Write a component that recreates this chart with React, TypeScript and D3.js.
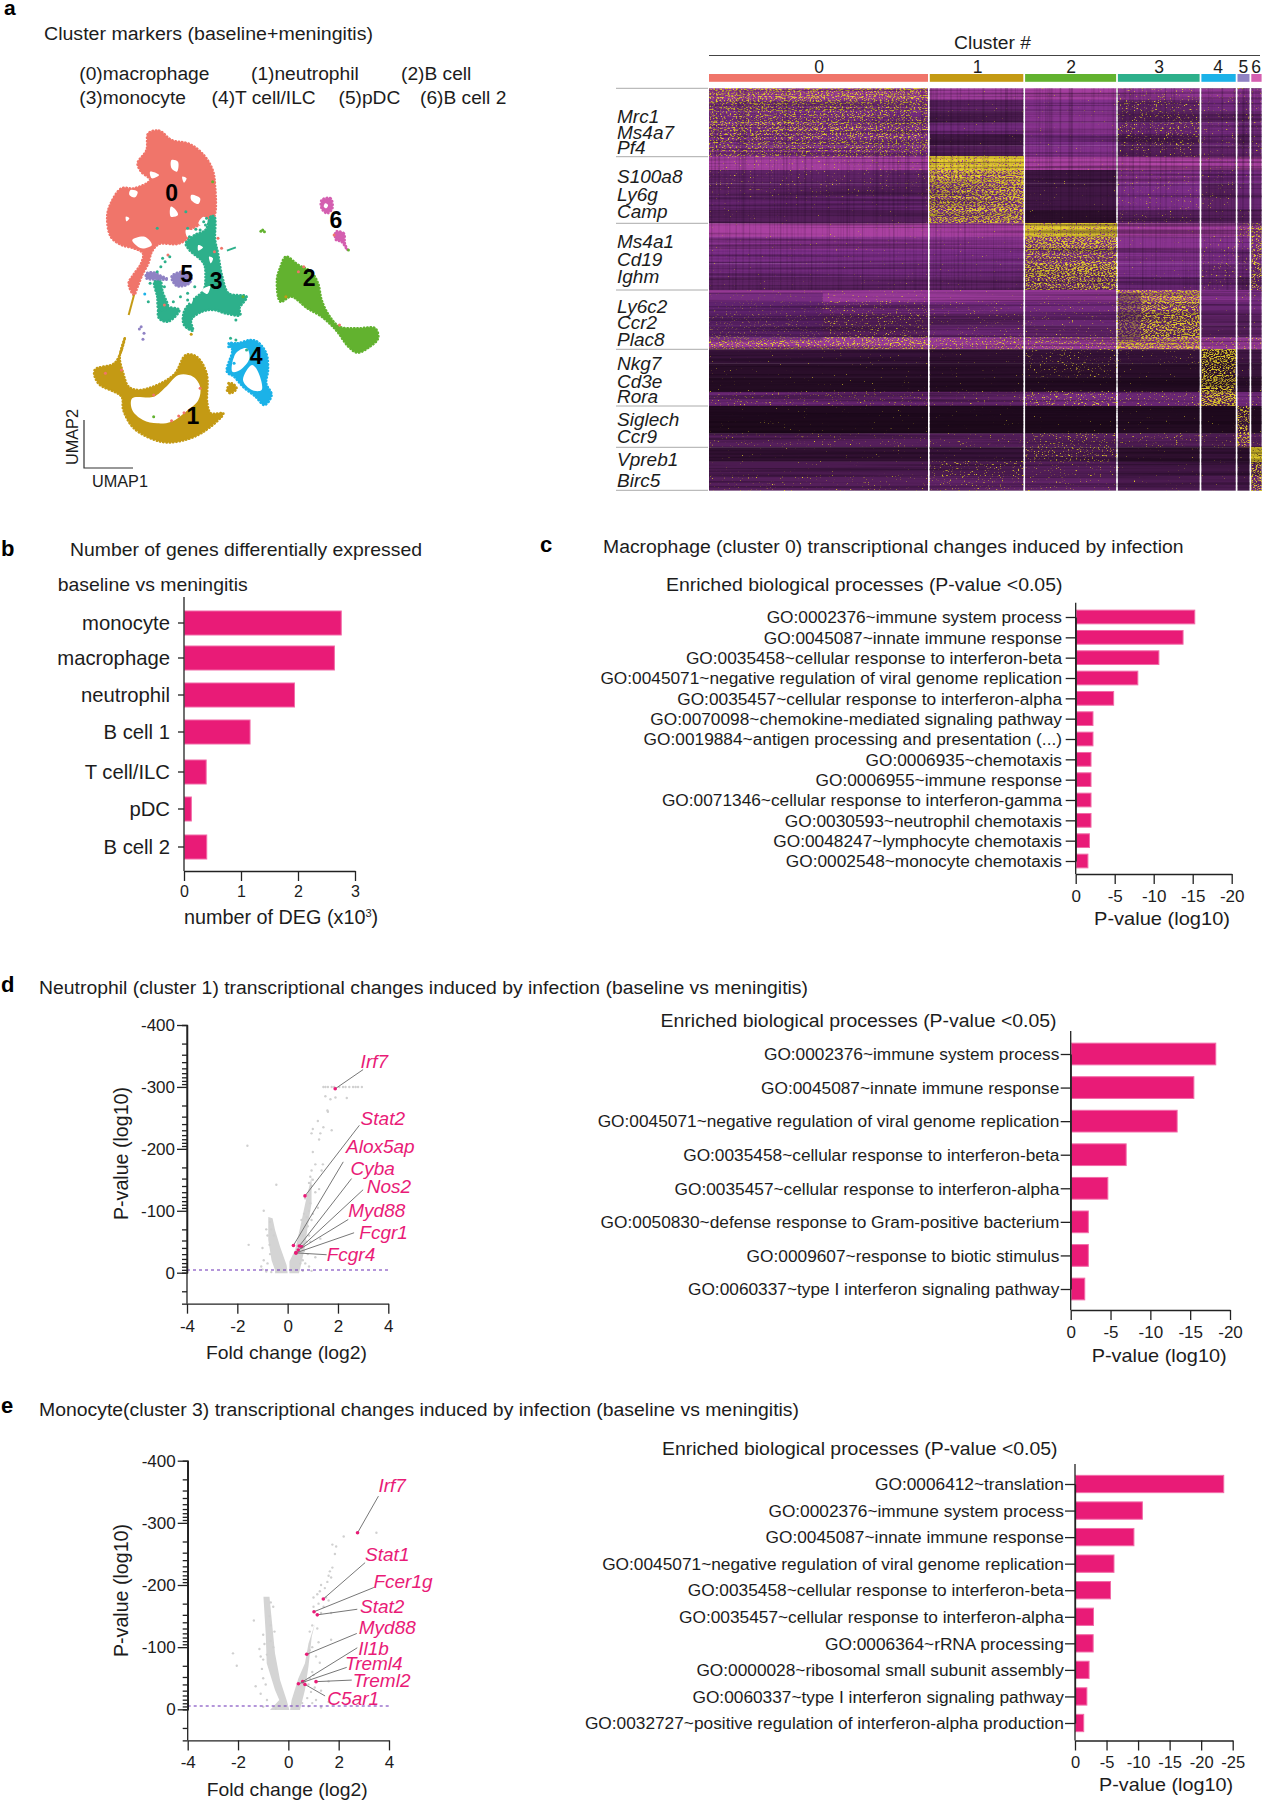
import React, { useEffect, useRef } from "react";
import * as d3 from "d3";

const SANS = "'Liberation Sans', Arial, sans-serif";
const PINK = "#E91B77";
const PINK_EDGE = "#F26BA8";
const INK = "#1c1c1c";

// ---------- panel a: UMAP ----------
const clusterColors = ["#F0756A", "#C49A14", "#62B22F", "#2DB08B", "#1BB2E8", "#8F82C4", "#D45FB0"];
const umapLegend: [string, number, number][] = [
  ["(0)macrophage", 79.3, 80], ["(1)neutrophil", 251, 80], ["(2)B cell", 401, 80],
  ["(3)monocyte", 79.3, 104], ["(4)T cell/ILC", 211.6, 104], ["(5)pDC", 338.5, 104], ["(6)B cell 2", 420, 104],
];
const umapBlob0 = [[415,400],[445,392],[480,420],[530,432],[570,465],[595,510],[602,560],[602,640],[592,662],[575,650],[560,672],[530,692],[525,715],[495,732],[445,732],[425,755],[415,790],[400,820],[385,860],[375,885],[360,850],[375,822],[395,790],[400,760],[375,745],[340,735],[310,710],[300,650],[310,610],[340,565],[375,565],[420,540],[395,515],[385,490],[410,450]];
const umapBlob3a = [[545,705],[575,690],[590,650],[600,650],[602,720],[610,760],[622,830],[640,880],[690,890],[670,925],[672,945],[630,940],[600,930],[565,935],[535,960],[540,992],[515,975],[515,935],[540,900],[570,870],[575,830],[570,790],[530,750],[520,730]];
const umapBlob3b = [[445,925],[470,922],[502,930],[470,965],[445,955]];
const umapBlob3c = [[432,845],[448,840],[455,875],[470,925],[445,930],[440,890]];
const umapBlob5a = [[480,830],[510,815],[535,825],[530,850],[495,858]];
const umapBlob5b = [[410,820],[432,818],[445,825],[470,838],[440,838],[410,835]];
const umapBlob2 = [[800,770],[835,795],[870,815],[890,850],[900,900],[920,945],[950,980],[1000,985],[1050,985],[1058,1015],[1035,1040],[1000,1058],[975,1040],[940,990],[900,950],[860,925],[815,890],[785,905],[775,840],[785,800]];
const umapBlob6a = [[900,600],[925,595],[930,625],[915,640],[900,625]];
const umapBlob6b = [[940,695],[962,700],[965,730],[972,750],[955,725],[940,720]];
const umapBlob4 = [[640,1030],[665,1030],[700,1020],[720,1025],[745,1060],[750,1110],[745,1150],[760,1185],[740,1215],[715,1190],[680,1160],[655,1130],[635,1115],[650,1050]];
const umapBlob1 = [[350,1012],[340,1050],[320,1090],[265,1110],[275,1150],[340,1190],[345,1230],[375,1285],[450,1325],[510,1322],[570,1295],[625,1240],[590,1240],[580,1210],[578,1120],[550,1070],[520,1065],[490,1120],[450,1150],[390,1170],[360,1160],[345,1120],[335,1070]];
const umapBlob1g = [[635,1170],[648,1150],[662,1165],[645,1180]];
const umapHoles = [
  [[370,1195],[430,1190],[465,1160],[500,1125],[540,1130],[560,1160],[555,1200],[520,1235],[480,1265],[440,1270],[400,1260],[370,1230]],
  [[660,1060],[690,1045],[698,1075],[672,1110],[650,1115]],
  [[705,1095],[722,1115],[732,1170],[705,1170],[680,1140]],
  [[480,480],[498,485],[495,515],[480,505]],
  [[478,620],[492,630],[498,645],[478,650]],
  [[535,585],[560,595],[555,612],[535,600]],
  [[365,570],[385,575],[378,592],[362,585]],
  [[370,720],[405,710],[425,735],[395,745]],
  [[420,515],[445,525],[425,535]],
  [[510,530],[522,535],[515,548]],
  [[352,650],[362,655],[354,664]],
  [[570,650],[585,665],[570,680],[555,670]],
  [[520,690],[545,695],[525,712]],
  [[430,755],[520,755],[570,800],[572,860],[520,880],[500,925],[465,880],[455,840],[435,835],[445,790]],
  [[910,610],[918,615],[913,625],[906,620]],
];
const umapHoles3 = [[[565,870],[588,858],[580,882]],[[528,900],[540,895],[535,912]],[[585,770],[596,775],[590,790]],[[555,735],[568,742],[555,752]]];
const umapStems: [number, number, number, number, number][] = [[1,375,885,360,945],[1,350,1012,338,1060],[3,635,752,660,742]];
const umapStray: [number, number, number][] = [[735,690,2],[740,695,2],[730,694,2],[395,980,5],[390,987,5],[400,1018,5],[403,1000,5],[535,1003,1],[500,1248,0],[515,1238,0],[480,1262,0],[560,1165,0],[935,705,0],[850,800,0],[835,815,0],[455,775,3],[470,765,0],[645,1015,3],[660,1020,3],[690,1050,3],[595,545,2],[440,685,3],[520,635,3],[575,675,3],[560,690,3],[525,685,3],[610,715,0],[405,882,4],[460,915,0],[295,1120,0],[340,1110,0],[430,1185,0],[430,1250,2],[800,890,1],[950,975,0],[420,850,3],[415,905,3],[525,900,3],[660,960,3],[680,890,2],[975,750,2],[590,650,3],[585,665,3],[578,655,3],[592,680,3],[570,665,3],[548,688,3],[530,710,3],[462,785,3],[450,800,3],[475,770,3],[440,815,3],[460,860,3],[485,905,3],[505,890,3],[525,880,3],[545,860,3],[620,745,0],[600,755,0],[650,1165,1],[640,1150,1],[520,1070,1],[545,1075,1],[650,1070,4],[640,1040,4],[670,1120,4],[655,1090,4]];
const umapLabels: [string, number, number][] = [["0",480,604],["1",540,1272],["2",865,858],["3",605,868],["4",717,1092],["5",522,845],["6",940,685]];

// ---------- panel a: heat map ----------
const clusterSpan = [219, 93.5, 91, 81.7, 34.3, 12, 10.3];
const clusterHeads: [string, number][] = [["0",819],["1",977.6],["2",1071],["3",1159],["4",1218],["5",1243.3],["6",1256]];
const geneBlockEdges = [88.3, 156.7, 223.3, 290, 349.3, 406, 447.3, 490.3];
const geneLabels: [string, number][] = [
  ["Mrc1",123],["Ms4a7",139],["Pf4",154],["S100a8",183],["Ly6g",201],["Camp",218],["Ms4a1",248],["Cd19",266],["Ighm",283],
  ["Ly6c2",313],["Ccr2",329],["Plac8",346],["Nkg7",370],["Cd3e",388],["Rora",403],["Siglech",426],["Ccr9",443],["Vpreb1",466],["Birc5",487],
];
const heatBase = [
  [[-.7,-.75,-.8,-.65,-.65,-.6,-.6],[-.55,-.35,-.55,-.35,-.45,-.4,-.5],[-.5,-.25,-.6,-.3,-.35,-.35,-.4],[-.5,-.45,-.6,-.4,-.45,-.4,-.45],[-.5,-.2,-.5,-.3,-.4,-.3,-.4],[-.55,-.3,-.55,-.3,-.35,-.35,-.4]],
  [[-.8,-.8,-.85,-.9,-.8,-.85,-.85],[-.35,-.6,-.2,-.6,-.4,-.5,-.5],[-.35,-.5,-.2,-.5,-.3,-.4,-.4],[-.4,-.5,-.2,-.5,-.35,-.4,-.4],[-.3,-.5,-.1,-.3,-.3,-.3,-.3]],
  [[-.85,-.8,-.75,-.8,-.75,-.7,-.6],[-.6,-.6,-.5,-.6,-.55,-.5,-.5],[-.5,-.5,-.5,-.55,-.5,-.4,-.5],[-.45,-.45,-.4,-.5,-.4,-.4,-.4],[-.35,-.35,-.4,-.4,-.4,-.3,-.4]],
  [[-.7,-.7,-.65,-.7,-.55,-.6,-.5],[-.4,-.45,-.45,-.45,-.4,-.4,-.45],[-.3,-.3,-.4,-.35,-.35,-.3,-.35],[-.3,-.4,-.35,-.35,-.3,-.3,-.35],[-.7,-.7,-.7,-.75,-.7,-.7,-.7]],
  [[-.15,-.12,-.15,-.15,-.1,-.2,-.2],[-.08,-.08,-.1,-.08,-.1,-.15,-.15],[-.05,-.05,-.05,-.05,-.1,-.1,-.1],[-.4,-.35,-.45,-.4,-.3,-.45,-.4]],
  [[-.03,-.03,-.03,-.05,-.03,-.2,-.05],[-.02,-.02,-.02,-.05,-.03,-.2,-.05],[-.3,-.3,-.3,-.3,-.25,-.4,-.3]],
  [[-.12,-.15,-.25,-.1,-.15,-.1,-.1],[-.25,-.25,-.3,-.2,-.2,-.15,-.3],[-.3,-.35,-.35,-.25,-.25,-.2,-.4]],
];
const heatSpeck = [
  [[.55,.05,.05,.14,.1,.1,.08],[.48,.05,.04,.18,.1,.08,.08],[.46,.04,.05,.22,.1,.08,.08],[.48,.05,.05,.24,.1,.1,.08],[.44,.04,.05,.18,.1,.08,.08],[.4,.06,.05,.14,.1,.08,.08]],
  [[.12,.95,.02,.06,.1,.05,.05],[.08,.8,.02,.12,.08,.05,.05],[.08,.72,.02,.12,.08,.05,.05],[.07,.68,.02,.12,.08,.05,.05],[.05,.72,.02,.1,.05,.05,.05]],
  [[.04,.03,.95,.03,.03,.3,.5],[.05,.05,.68,.05,.12,.15,.45],[.05,.05,.62,.05,.12,.12,.45],[.07,.05,.68,.05,.14,.1,.45],[.05,.04,.62,.04,.1,.1,.45]],
  [[.12,.06,.05,.72,.04,.1,.1],[.15,.08,.08,.64,.06,.05,.05],[.2,.08,.08,.64,.06,.05,.05],[.22,.08,.08,.64,.06,.05,.05],[.45,.28,.28,.7,.2,.2,.25]],
  [[.05,.04,.13,.08,.68,.05,.05],[.04,.04,.13,.07,.62,.05,.05],[.02,.03,.05,.03,.68,.03,.03],[.15,.1,.25,.15,.72,.1,.1]],
  [[.03,.02,.03,.05,.02,.55,.05],[.02,.02,.02,.05,.02,.55,.05],[.1,.1,.22,.15,.1,.58,.1]],
  [[.04,.06,.25,.03,.03,.02,.95],[.06,.18,.12,.05,.05,.02,.6],[.1,.15,.1,.06,.05,.02,.6]],
];
// parts of a block where a cluster stays less expressed: block, cluster, from, to (share of its width)
const heatQuiet: [number, number, number, number][] = [[3, 3, 0, 0.28], [3, 0, 0, 0.52]];

// ---------- panel b ----------
const degCells = ["monocyte", "macrophage", "neutrophil", "B cell 1", "T cell/ILC", "pDC", "B cell 2"];
const degCounts = [2.75, 2.63, 1.93, 1.15, 0.38, 0.12, 0.39];
const degRows = [623, 658, 695, 732, 772, 809, 847];

// ---------- panels c, d, e: enrichment ----------
const macTerms = ["GO:0002376~immune system process","GO:0045087~innate immune response","GO:0035458~cellular response to interferon-beta","GO:0045071~negative regulation of viral genome replication","GO:0035457~cellular response to interferon-alpha","GO:0070098~chemokine-mediated signaling pathway","GO:0019884~antigen processing and presentation (...)","GO:0006935~chemotaxis","GO:0006955~immune response","GO:0071346~cellular response to interferon-gamma","GO:0030593~neutrophil chemotaxis","GO:0048247~lymphocyte chemotaxis","GO:0002548~monocyte chemotaxis"];
const macP = [-15.2,-13.7,-10.6,-7.9,-4.8,-2.15,-2.15,-1.9,-1.9,-1.9,-1.9,-1.7,-1.5];
const neuTerms = ["GO:0002376~immune system process","GO:0045087~innate immune response","GO:0045071~negative regulation of viral genome replication","GO:0035458~cellular response to interferon-beta","GO:0035457~cellular response to interferon-alpha","GO:0050830~defense response to Gram-positive bacterium","GO:0009607~response to biotic stimulus","GO:0060337~type I interferon signaling pathway"];
const neuP = [-18.15,-15.4,-13.3,-6.9,-4.6,-2.15,-2.15,-1.7];
const monTerms = ["GO:0006412~translation","GO:0002376~immune system process","GO:0045087~innate immune response","GO:0045071~negative regulation of viral genome replication","GO:0035458~cellular response to interferon-beta","GO:0035457~cellular response to interferon-alpha","GO:0006364~rRNA processing","GO:0000028~ribosomal small subunit assembly","GO:0060337~type I interferon signaling pathway","GO:0032727~positive regulation of interferon-alpha production"];
const monP = [-23.5,-10.6,-9.26,-6.1,-5.55,-2.85,-2.8,-2.15,-1.8,-1.3];
const ticks20 = [0, -5, -10, -15, -20];
const ticks25 = [0, -5, -10, -15, -20, -25];

// ---------- volcano ----------
const foldTicks = [-4, -2, 0, 2, 4];
const pMajor = [0, -100, -200, -300, -400];
const pMinorOffsets = [4.6, 9.7, 15.5, 22.2, 30, 40, 52, 70];
const pBelow = [30, 50];
const neuLeftArm = [[-.77,-90],[-.6,-88],[-.5,-69],[-.3,-42],[-.04,-12],[0,1],[-.5,1],[-.5,-4],[-.64,-20],[-.77,-53]];
const neuRightArm = [[.07,1],[.07,-18],[.3,-37],[.5,-74],[.7,-112],[.95,-155],[.95,-112],[.8,-75],[.68,-40],[.5,-7],[.45,1]];
const neuGrey = [[-1.6,-205],[-.45,-142],[-.95,-100],[-1.55,-45],[-1,-40],[-.95,-20],[-.7,-30],[-.8,-60],[-.85,-70],[-1.05,-10],[1.42,-300],[1.5,-300],[1.6,-300],[1.75,-300],[1.85,-300],[2.05,-300],[2.2,-300],[2.3,-300],[2.45,-300],[2.6,-300],[2.7,-300],[2.8,-300],[2.95,-300],[1.5,-285],[1.7,-280],[1.9,-283],[2.35,-282],[1.6,-260],[1.58,-262],[1.2,-245],[1.42,-235],[1,-232],[.95,-225],[1.3,-225],[1.75,-230],[1.25,-215],[1,-195],[1.1,-175],[1.35,-165],[1.4,-175],[.95,-165],[.9,-155],[1,-150],[.85,-145],[.95,-140],[1.25,-135],[1.1,-130],[.8,-125],[.7,-120],[.9,-112],[.85,-100],[1.2,-105],[1,-95],[.95,-85],[.75,-90],[1.3,-55],[.9,-50],[1.1,-25],[.7,-15],[.85,-10],[.95,-3],[-.4,-2],[.6,-3],[-.7,-82],[-.65,-70],[-.55,-60],[-.72,-45],[.6,-60],[.55,-85],[.65,-95],[.8,-75],[.85,-60],[.75,-50],[.65,-35],[.6,-20],[.8,-30],[.5,-15],[-.8,-15],[-.85,-2],[-.65,-1],[-1,-5]];
const neuGenes: [string, number, number, number, number, number, number][] = [
  ["Irf7",1.89,-297,3.0,-328,2.9,-330],["Stat2",.69,-124,2.85,-238,2.9,-239],["Alox5ap",.23,-44,2.21,-179,2.32,-192.5],["Cyba",.46,-43,2.54,-152,2.5,-157.5],
  ["Nos2",.56,-42,3.0,-134,3.14,-129],["Myd88",.42,-36.5,2.41,-86,2.41,-90],["Fcgr1",.33,-32,2.64,-64.5,2.85,-54],["Fcgr4",.33,-32,1.55,-29,1.55,-19],
];
const monLeftArm = [[-.99,-181],[-.75,-181],[-.66,-144],[-.53,-90],[-.33,-47],[-.07,-15],[.04,1],[-.73,1],[-.36,-15],[-.53,-31],[-.86,-74],[-.9,-122]];
const monRightArm = [[.07,1],[.13,-15],[.4,-50],[.66,-74],[.8,-106],[1.06,-138],[.93,-117],[.8,-69],[.66,-31],[.46,1]];
const monGrey = [[-2.2,-90],[-2.05,-70],[-1.37,-143],[-1.15,-97],[-1.1,-85],[-1.05,-65],[-1.3,-37],[-1.1,-25],[-1,-120],[-1,-50],[-.9,-40],[-.7,-172],[-.6,-165],[-.75,-150],[-.7,-135],[-.95,-105],[-.85,-88],[-1,-80],[-.7,-110],[-.6,-100],[-.55,-125],[3.5,-284],[2.2,-278],[1.9,-262],[1.75,-265],[1.85,-250],[1.75,-228],[1.65,-222],[1.7,-212],[1.55,-205],[1.6,-215],[1.3,-200],[1.25,-190],[1.45,-195],[1,-180],[1.15,-185],[1.5,-180],[1.2,-170],[1.6,-175],[1.4,-165],[1,-165],[1.3,-155],[1.7,-155],[.95,-135],[.85,-125],[1.15,-130],[1.7,-112],[1.2,-108],[.95,-100],[.85,-95],[1.1,-85],[1.25,-75],[1.6,-45],[1,-55],[1.3,-30],[1.1,-15],[1.6,-12],[.8,-5],[1.3,-3],[-.5,-1],[-1,-4],[-.85,-15],[.95,-60],[.85,-50],[.8,-40],[.9,-28],[1.05,-35],[.75,-18],[.55,-10],[.95,-10]];
const monGenes: [string, number, number, number, number, number, number][] = [
  ["Irf7",2.75,-284,3.58,-343,3.58,-350],["Stat1",1.39,-177.5,3.05,-236,3.05,-239],["Fcer1g",1.02,-157,3.4,-196,3.38,-195],["Stat2",1.15,-152,2.74,-161,2.85,-155.5],
  ["Myd88",.73,-88.5,2.72,-122,2.8,-121],["Il1b",.57,-44.5,2.74,-99,2.78,-87],["Treml4",.4,-41,2.32,-67.5,2.25,-63],["Treml2",1.1,-44.5,2.52,-47,2.56,-36.5],["C5ar1",.66,-40,1.46,-21.5,1.55,-7],
];

// ---------- helpers ----------
type TP = { x: number; y: number; w?: number; s?: number; a?: string; b?: boolean; i?: boolean; c?: string; r?: boolean; children?: any };
const T = ({ x, y, w, s = 18, a = "start", b, i, c = INK, r, children }: TP) => (
  <text
    x={r ? 0 : x} y={r ? 0 : y}
    transform={r ? `translate(${x},${y}) rotate(-90)` : undefined}
    fontFamily={SANS} fontSize={s} textAnchor={a} fontWeight={b ? "bold" : "normal"} fontStyle={i ? "italic" : "normal"} fill={c}
    {...(w ? { textLength: w, lengthAdjust: "spacingAndGlyphs" } : {})}
  >{children}</text>
);
const plain = (d: any) => String(d);

function Axis({ axis, x = 0, y = 0, size = 17 }: { axis: any; x?: number; y?: number; size?: number }) {
  const ref = useRef<SVGGElement>(null);
  useEffect(() => {
    const g = d3.select(ref.current);
    g.call(axis);
    g.selectAll("path,line").attr("stroke", "#222").attr("stroke-width", 1.3);
    g.selectAll("text").attr("fill", INK).attr("font-family", SANS).attr("font-size", size);
  }, []);
  return <g ref={ref} transform={`translate(${x},${y})`} />;
}

const blobPath = d3.line().curve(d3.curveCatmullRomClosed.alpha(0.5));
const ux = d3.scaleLinear([0, 1567], [0, 560]);
const uy = d3.scaleLinear([0, 1560], [0, 520]);
const blob = (pts: number[][]) => blobPath(pts.map(([a, b]) => [ux(a), uy(b)] as [number, number])) as string;

function Umap() {
  const layers: [number[][], number][] = [[umapBlob0,0],[umapBlob1,1],[umapBlob1g,1],[umapBlob2,2],[umapBlob4,4],[umapBlob6a,6],[umapBlob6b,6]];
  const over: [number[][], number][] = [[umapBlob3a,3],[umapBlob3b,3],[umapBlob3c,3],[umapBlob5a,5],[umapBlob5b,5]];
  const draw = ([p, c]: [number[][], number], i: number) => (
    <g key={i}>
      <path d={blob(p)} fill={clusterColors[c]} />
      <path d={blob(p)} fill="none" stroke={clusterColors[c]} strokeWidth={2.6} strokeLinecap="round" strokeDasharray="0.4 2.9" />
    </g>
  );
  return (
    <g>
      {layers.map(draw)}
      {umapHoles.map((p, i) => <path key={i} d={blob(p)} fill="#fff" />)}
      {over.map(draw)}
      {umapHoles3.map((p, i) => <path key={i} d={blob(p)} fill="#fff" />)}
      {umapStems.map(([c, a, b, e, f], i) => <line key={i} x1={ux(a)} y1={uy(b)} x2={ux(e)} y2={uy(f)} stroke={clusterColors[c]} strokeWidth={2} />)}
      {umapStray.map(([a, b, c], i) => <circle key={i} cx={ux(a)} cy={uy(b)} r={1.5} fill={clusterColors[c]} />)}
      {umapLabels.map(([t, a, b]) => <T key={t} x={ux(a)} y={uy(b)} s={23} b a="middle" c="#000">{t}</T>)}
      <path d="M84,420V468H133" fill="none" stroke="#333" strokeWidth={1.2} />
      <T x={78} y={465} w={56} s={16} r>UMAP2</T>
      <T x={92} y={487} w={56} s={16}>UMAP1</T>
    </g>
  );
}

function Heatmap() {
  const gap = 1.8;
  const sum = d3.sum(clusterSpan) + gap * (clusterSpan.length - 1);
  const hx = d3.scaleLinear([0, sum], [709, 709 + sum]);
  const starts = d3.cumsum(clusterSpan.map((d) => d + gap)).map((d, i) => d - clusterSpan[i] - gap);
  const shade = d3.scaleLinear<string>().domain([-1, -0.5, 0]).range(["#BE49AC", "#7C2E88", "#1A0818"]);
  const levels = d3.range(1, 21).map((d) => d * 5);
  const k = 6;
  const thresh = (d: number) => 0.5 + 0.085 * Math.log((1 - Math.min(d, 0.97)) / Math.min(d, 0.97));
  const top = geneBlockEdges[0];
  const bottom = geneBlockEdges[geneBlockEdges.length - 1];
  return (
    <g>
      <defs>
        {levels.map((l) => (
          <filter key={l} id={`sp${l}`} x="0" y="0" width="100%" height="100%" colorInterpolationFilters="sRGB">
            <feTurbulence type="fractalNoise" baseFrequency="0.5 1.15" numOctaves={2} seed={4} />
            <feColorMatrix type="matrix" values={`0 0 0 0 .93  0 0 0 0 .85  0 0 0 0 .16  0 0 0 ${k} ${-k * thresh(l / 100)}`} />
            <feGaussianBlur stdDeviation="0.3" />
          </filter>
        ))}
        <filter id="rowStreak" x="0" y="0" width="100%" height="100%" colorInterpolationFilters="sRGB">
          <feTurbulence type="fractalNoise" baseFrequency="0.003 0.42" numOctaves={2} seed={9} />
          <feColorMatrix type="matrix" values="0 0 0 0 .06  0 0 0 0 .01  0 0 0 0 .06  0 0 0 3.2 -1.35" />
        </filter>
        <filter id="colStreak" x="0" y="0" width="100%" height="100%" colorInterpolationFilters="sRGB">
          <feTurbulence type="fractalNoise" baseFrequency="0.45 0.004" numOctaves={2} seed={2} />
          <feColorMatrix type="matrix" values="0 0 0 0 .06  0 0 0 0 .01  0 0 0 0 .06  0 0 0 3 -1.45" />
        </filter>
      </defs>
      <T x={954} y={49} w={77} s={18}>Cluster #</T>
      <line x1={709} x2={1260} y1={55.5} y2={55.5} stroke="#444" strokeWidth={1} />
      {clusterHeads.map(([t, x]) => <T key={t} x={x} y={72.7} s={17.5} a="middle">{t}</T>)}
      {clusterSpan.map((w, c) => (
        <rect key={c} x={hx(starts[c])} y={74} width={hx(w) - hx(0)} height={7.8} fill={clusterColors[c]} />
      ))}
      {heatBase.map((block, bi) => {
        const ry = d3.scaleLinear([0, block.length], [geneBlockEdges[bi], geneBlockEdges[bi + 1]]);
        return block.map((row, ri) => row.map((v, c) => {
          const lvl = Math.max(5, Math.round(heatSpeck[bi][ri][c] * 20) * 5);
          const box = { x: hx(starts[c]), y: ry(ri), width: hx(clusterSpan[c]) - hx(0), height: ry(ri + 1) - ry(ri) + 0.3 };
          return (
            <g key={`${bi}-${ri}-${c}`}>
              <rect {...box} fill={shade(v)} />
              <rect {...box} fill="#000" filter={`url(#sp${lvl})`} opacity={0.92} />
            </g>
          );
        }));
      })}
      {heatQuiet.map(([bi, c, a, b], i) => (
        <rect key={i} x={hx(starts[c] + a * clusterSpan[c])} y={geneBlockEdges[bi] + 3} width={hx((b - a) * clusterSpan[c]) - hx(0)} height={geneBlockEdges[bi + 1] - geneBlockEdges[bi] - 12} fill="#55206A" opacity={0.5} />
      ))}
      {clusterSpan.map((w, c) => (
        <g key={c}>
          <rect x={hx(starts[c])} y={top} width={hx(w) - hx(0)} height={bottom - top} fill="#000" filter="url(#rowStreak)" opacity={0.35} />
          <rect x={hx(starts[c])} y={top} width={hx(w) - hx(0)} height={geneBlockEdges[3] - top} fill="#000" filter="url(#colStreak)" opacity={0.22} />
        </g>
      ))}
      {geneBlockEdges.map((y) => <line key={y} x1={616} x2={708} y1={y} y2={y} stroke="#aaa" strokeWidth={1} />)}
      {geneLabels.map(([t, y]) => <T key={t} x={617} y={y} s={19} i>{t}</T>)}
    </g>
  );
}

function DegBars() {
  const x = d3.scaleLinear([0, 3], [184, 355]);
  const y = d3.scaleOrdinal<string, number>(degCells, degRows);
  return (
    <g>
      <T x={70} y={556} w={352} s={18.5}>Number of genes differentially expressed</T>
      <T x={57.7} y={590.7} w={190} s={18.5}>baseline vs meningitis</T>
      {degCells.map((c, i) => (
        <g key={c}>
          <rect x={x(0) + 0.5} y={y(c) - 12} width={x(degCounts[i]) - x(0)} height={24} fill={PINK} stroke={PINK_EDGE} strokeWidth={1} />
          <line x1={178} x2={184} y1={y(c)} y2={y(c)} stroke="#222" strokeWidth={1.3} />
          <T x={170} y={y(c) + 7} s={20.3} a="end">{c}</T>
        </g>
      ))}
      <line x1={184} x2={184} y1={597} y2={871} stroke="#222" strokeWidth={1.3} />
      <Axis axis={d3.axisBottom(x).tickValues([0, 1, 2, 3]).tickSize(10).tickSizeOuter(0).tickPadding(5).tickFormat(plain)} y={871} size={16} />
      <text x={184} y={924.4} fontFamily={SANS} fontSize={19.8} fill={INK}>number of DEG (x10<tspan dy={-7} fontSize={11}>3</tspan><tspan dy={7}>)</tspan></text>
    </g>
  );
}

type GoProps = { terms: string[]; values: number[]; x0: number; x1: number; max: number; ticks: number[]; top: number; axisY: number; first: number; last: number; barH: number; labelR: number; tickSize: number };
function GoBars({ terms, values, x0, x1, max, ticks, top, axisY, first, last, barH, labelR, tickSize }: GoProps) {
  const size = 17.3;
  const x = d3.scaleLinear([0, max], [x0, x1]);
  const y = d3.scalePoint(terms, [first, last]);
  return (
    <g>
      {terms.map((t, i) => (
        <g key={t}>
          <rect x={x0 + 0.5} y={(y(t) as number) - barH / 2} width={x(values[i]) - x0} height={barH} fill={PINK} stroke={PINK_EDGE} strokeWidth={1} />
          <T x={labelR} y={(y(t) as number) + size * 0.36} s={size} a="end">{t}</T>
        </g>
      ))}
      <Axis axis={d3.axisLeft(y as any).tickSize(10).tickSizeOuter(0).tickFormat(() => "")} x={x0} />
      <line x1={x0} x2={x0} y1={top} y2={axisY} stroke="#222" strokeWidth={1.3} />
      <Axis axis={d3.axisBottom(x).tickValues(ticks).tickSize(10).tickSizeOuter(0).tickPadding(6).tickFormat(plain)} y={axisY} size={tickSize} />
    </g>
  );
}

type VP = { left: number[][]; right: number[][]; grey: number[][]; genes: [string, number, number, number, number, number, number][]; xr: [number, number]; yr: [number, number]; cut: number };
function Volcano({ left, right, grey, genes, xr, yr, cut }: VP) {
  const x = d3.scaleLinear([-4, 4], xr);
  const y = d3.scaleLinear([-400, 0], yr);
  const minor = [...pMajor.slice(0, 4).flatMap((m) => pMinorOffsets.map((o) => m - o)), ...pBelow];
  const area = d3.line().curve(d3.curveLinearClosed);
  const toPx = (p: number[]) => [x(p[0]), y(p[1])] as [number, number];
  const bottom = y(50);
  return (
    <g>
      <path d={area(left.map(toPx)) as string} fill="#d4d4d4" />
      <path d={area(right.map(toPx)) as string} fill="#d4d4d4" />
      {grey.map((p, i) => <circle key={i} cx={x(p[0])} cy={y(p[1])} r={1.2} fill="#d0d0d0" />)}
      <line x1={xr[0]} x2={xr[1]} y1={cut} y2={cut} stroke="#6B2FB5" strokeWidth={1.2} strokeDasharray="3 3" />
      {genes.map(([n, a, b, c, d, e, f]) => (
        <g key={n}>
          <line x1={x(a)} y1={y(b)} x2={x(c)} y2={y(d)} stroke="#777" strokeWidth={1} />
          <circle cx={x(a)} cy={y(b)} r={1.8} fill={PINK} />
          <T x={x(e)} y={y(f)} s={19} i c={PINK}>{n}</T>
        </g>
      ))}
      <Axis axis={d3.axisLeft(y).tickValues(minor).tickSize(5).tickFormat(() => "")} x={xr[0]} />
      <Axis axis={d3.axisLeft(y).tickValues(pMajor).tickSize(10).tickSizeOuter(0).tickPadding(2).tickFormat(plain)} x={xr[0]} />
      <line x1={xr[0]} x2={xr[0]} y1={yr[0]} y2={bottom} stroke="#222" strokeWidth={1.3} />
      <Axis axis={d3.axisBottom(x).tickValues(foldTicks).tickSize(10).tickSizeOuter(0).tickPadding(6).tickFormat(plain)} y={bottom} />
    </g>
  );
}

export default function App() {
  return (
    <svg width={1264} height={1800} viewBox="0 0 1264 1800" style={{ position: "absolute", left: 0, top: 0, display: "block", background: "#fff" }}>
      <T x={4} y={15} s={21} b c="#000">a</T>
      <T x={44} y={40} w={329} s={18}>Cluster markers (baseline+meningitis)</T>
      {umapLegend.map(([t, x, y]) => <T key={t} x={x} y={y} s={19.2}>{t}</T>)}
      <Umap />
      <Heatmap />

      <T x={1} y={556} s={22} b c="#000">b</T>
      <DegBars />

      <T x={540} y={552} s={22} b c="#000">c</T>
      <T x={603} y={553} w={580.5} s={18}>Macrophage (cluster 0) transcriptional changes induced by infection</T>
      <T x={666} y={591} w={396.5} s={18}>Enriched biological processes (P-value &lt;0.05)</T>
      <GoBars terms={macTerms} values={macP} x0={1075.7} x1={1231.7} max={-20} ticks={ticks20} top={602.7} axisY={874} first={617} last={861} barH={13.7} labelR={1062} tickSize={17} />
      <T x={1094} y={925} w={136} s={18.5}>P-value (log10)</T>

      <T x={1} y={992} s={22} b c="#000">d</T>
      <T x={39} y={994} w={769} s={18}>Neutrophil (cluster 1) transcriptional changes induced by infection (baseline vs meningitis)</T>
      <Volcano left={neuLeftArm} right={neuRightArm} grey={neuGrey} genes={neuGenes} xr={[187, 388.3]} yr={[1025, 1272.7]} cut={1270} />
      <T x={127.5} y={1220} w={133} s={19.5} r>P-value (log10)</T>
      <T x={206} y={1359} w={161} s={18.5}>Fold change (log2)</T>
      <T x={660.6} y={1027} w={396} s={18}>Enriched biological processes (P-value &lt;0.05)</T>
      <GoBars terms={neuTerms} values={neuP} x0={1070.7} x1={1230} max={-20} ticks={ticks20} top={1031} axisY={1310} first={1054} last={1289} barH={21.7} labelR={1059.3} tickSize={17} />
      <T x={1091.7} y={1361.7} w={135} s={18.5}>P-value (log10)</T>

      <T x={1} y={1413} s={22} b c="#000">e</T>
      <T x={39} y={1416} w={760} s={18}>Monocyte(cluster 3) transcriptional changes induced by infection (baseline vs meningitis)</T>
      <Volcano left={monLeftArm} right={monRightArm} grey={monGrey} genes={monGenes} xr={[187.7, 389]} yr={[1460.7, 1709.3]} cut={1706} />
      <T x={128} y={1657} w={133} s={19.5} r>P-value (log10)</T>
      <T x={206.7} y={1796} w={161} s={18.5}>Fold change (log2)</T>
      <T x={662} y={1455} w={395.5} s={18}>Enriched biological processes (P-value &lt;0.05)</T>
      <GoBars terms={monTerms} values={monP} x0={1075} x1={1232.7} max={-25} ticks={ticks25} top={1464} axisY={1740.5} first={1484} last={1723} barH={17.3} labelR={1063.8} tickSize={16.5} />
      <T x={1099} y={1790.7} w={134} s={18.5}>P-value (log10)</T>
    </svg>
  );
}
